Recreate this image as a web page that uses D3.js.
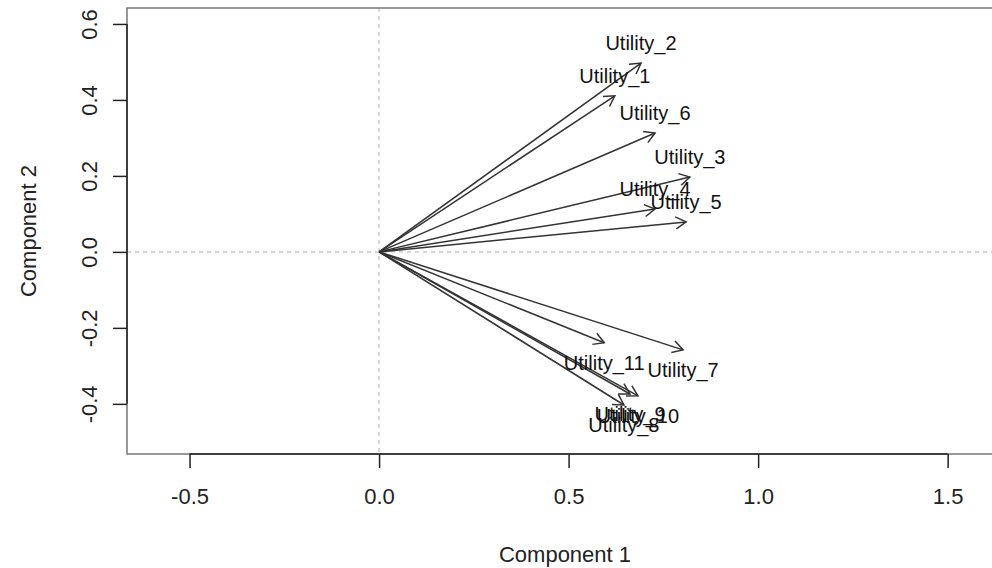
<!DOCTYPE html>
<html>
<head>
<meta charset="utf-8">
<script src="https://cdn.jsdelivr.net/npm/d3@7"></script>
<style>
  body { margin: 0; background: #fff; }
  svg text { font-family: "Liberation Sans", Arial, sans-serif; }
</style>
</head>
<body>
<div id="chart"></div>
<script>
// loadings
var names = ["Utility_1", "Utility_2", "Utility_3", "Utility_4", "Utility_5", "Utility_6",
             "Utility_7", "Utility_8", "Utility_9", "Utility_10", "Utility_11"]
var comp1 = [0.622, 0.691, 0.820, 0.728, 0.810, 0.728, 0.802, 0.646, 0.662, 0.683, 0.594]
var comp2 = [0.411, 0.497, 0.197, 0.113, 0.079, 0.313, -0.258, -0.403, -0.374, -0.379, -0.239]

var xTicks = [-0.5, 0.0, 0.5, 1.0, 1.5]
var yTicks = [-0.4, -0.2, 0.0, 0.2, 0.4, 0.6]

var width = 992
var height = 568
var box = { left: 127, right: 1003, top: 8, bottom: 454 }

var svg = d3.select("#chart")
  .append("svg")
    .attr("width", width)
    .attr("height", height)

var x = d3.scaleLinear().domain([-0.665, 1.646]).range([box.left, box.right])
var y = d3.scaleLinear().domain([-0.532, 0.642]).range([box.bottom, box.top])

// plain hyphen for negatives, like R
var fmt = function(v) { return d3.format(".1f")(v).replace("\u2212", "-") }

// reference lines through the origin
svg.append("line")
  .attr("x1", x(0)).attr("x2", x(0))
  .attr("y1", box.top).attr("y2", box.bottom)
  .attr("stroke", "#cccccc").attr("stroke-width", 1.5)
  .attr("stroke-dasharray", "4,4")
svg.append("line")
  .attr("x1", box.left).attr("x2", box.right)
  .attr("y1", y(0)).attr("y2", y(0))
  .attr("stroke", "#cccccc").attr("stroke-width", 1.5)
  .attr("stroke-dasharray", "4,4")

// plot box
svg.append("rect")
  .attr("x", box.left).attr("y", box.top)
  .attr("width", box.right - box.left).attr("height", box.bottom - box.top)
  .attr("fill", "none").attr("stroke", "#777").attr("stroke-width", 1.5)

// x axis
var gx = svg.append("g")
  .attr("transform", "translate(0," + box.bottom + ")")
  .call(d3.axisBottom(x).tickValues(xTicks).tickFormat(fmt).tickSize(14).tickPadding(20))
gx.select(".domain").remove()
gx.selectAll(".tick line").attr("stroke", "#222").attr("stroke-width", 1.5)
gx.selectAll(".tick text").attr("font-size", 22).attr("fill", "#222")
  .attr("font-family", "Liberation Sans, Arial, sans-serif")
gx.append("line")
  .attr("x1", x(xTicks[0])).attr("x2", x(xTicks[xTicks.length - 1]))
  .attr("stroke", "#222").attr("stroke-width", 1.5)

// y axis (labels rotated like R)
var gy = svg.append("g")
  .attr("transform", "translate(" + box.left + ",0)")
  .call(d3.axisLeft(y).tickValues(yTicks).tickFormat(fmt).tickSize(14))
gy.select(".domain").remove()
gy.selectAll(".tick line").attr("stroke", "#222").attr("stroke-width", 1.5)
gy.selectAll(".tick text")
  .attr("x", null).attr("dy", null)
  .attr("text-anchor", "middle")
  .attr("transform", "translate(-30,0) rotate(-90)")
  .attr("font-size", 22).attr("fill", "#222")
  .attr("font-family", "Liberation Sans, Arial, sans-serif")
gy.append("line")
  .attr("y1", y(yTicks[0])).attr("y2", y(yTicks[yTicks.length - 1]))
  .attr("stroke", "#222").attr("stroke-width", 1.5)

// axis titles
svg.append("text")
  .attr("x", (box.left + box.right) / 2).attr("y", 562)
  .attr("text-anchor", "middle").attr("font-size", 22).attr("fill", "#222")
  .text("Component 1")
svg.append("text")
  .attr("transform", "translate(36," + (box.top + box.bottom) / 2 + ") rotate(-90)")
  .attr("text-anchor", "middle").attr("font-size", 22).attr("fill", "#222")
  .text("Component 2")

// arrows
var data = names.map(function(n, i) { return { name: n, c1: comp1[i], c2: comp2[i] } })
var headLen = 12, headAng = Math.PI / 6

var g = svg.append("g")
g.selectAll(".shaft")
  .data(data)
  .enter().append("line")
    .attr("x1", x(0)).attr("y1", y(0))
    .attr("x2", function(d) { return x(d.c1) })
    .attr("y2", function(d) { return y(d.c2) })
    .attr("stroke", "#333").attr("stroke-width", 1.5)

g.selectAll(".head")
  .data(data)
  .enter().append("path")
    .attr("d", function(d) {
      var tx = x(d.c1), ty = y(d.c2)
      var a = Math.atan2(ty - y(0), tx - x(0))
      var p1 = [tx - headLen * Math.cos(a - headAng), ty - headLen * Math.sin(a - headAng)]
      var p2 = [tx - headLen * Math.cos(a + headAng), ty - headLen * Math.sin(a + headAng)]
      return "M" + p1 + "L" + tx + "," + ty + "L" + p2
    })
    .attr("fill", "none").attr("stroke", "#333").attr("stroke-width", 1.5)

// labels above positive, below negative
g.selectAll(".lab")
  .data(data)
  .enter().append("text")
    .attr("x", function(d) { return x(d.c1) })
    .attr("y", function(d) { return y(d.c2) + (d.c2 >= 0 ? -20 : 20) })
    .attr("dy", "0.35em")
    .attr("text-anchor", "middle")
    .attr("font-size", 20).attr("fill", "#111")
    .text(function(d) { return d.name })
</script>
</body>
</html>
